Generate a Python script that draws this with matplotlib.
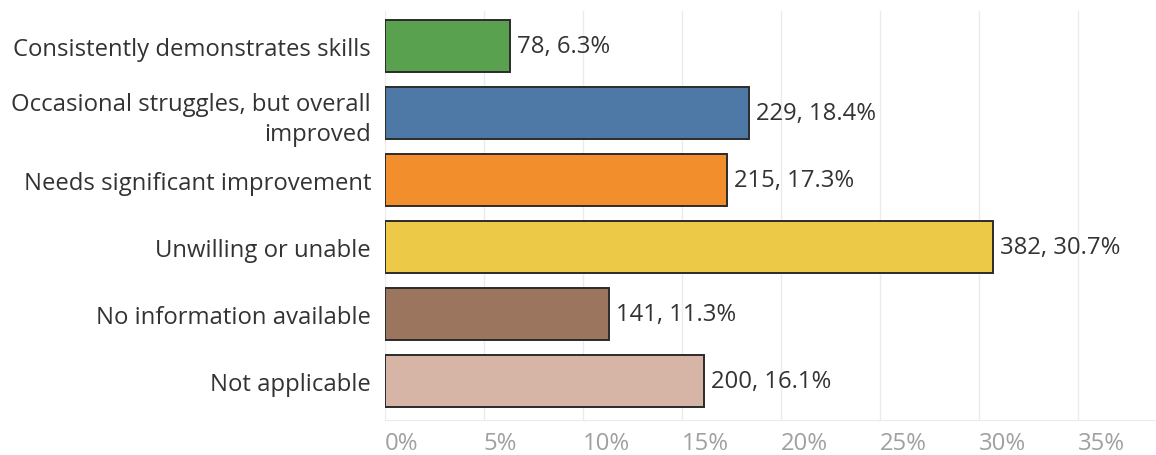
import matplotlib
matplotlib.use("Agg")
import matplotlib.pyplot as plt
from matplotlib.ticker import FuncFormatter

categories = [
    "Consistently demonstrates skills",
    "Occasional struggles, but overall\nimproved",
    "Needs significant improvement",
    "Unwilling or unable",
    "No information available",
    "Not applicable",
]
counts = [78, 229, 215, 382, 141, 200]
percents = [6.3, 18.4, 17.3, 30.7, 11.3, 16.1]
colors = ["#59A14F", "#4E79A7", "#F28E2B", "#EDC948", "#9C755F", "#D7B5A6"]
xticks = [0, 5, 10, 15, 20, 25, 30, 35]

plt.rcParams['font.family'] = ['Open Sans', 'DejaVu Sans']

W, H = 1156, 456
fig = plt.figure(figsize=(W / 100, H / 100), dpi=100)
left, right, top, bottom = 385, 1157, 12, 421
ax = fig.add_axes([left / W, 1 - bottom / H, (right - left) / W, (bottom - top) / H])

ypos = list(range(len(categories)))
ax.barh(ypos, percents, height=0.78, color=colors, edgecolor="#2b2b2b", linewidth=1.4, zorder=3)
ax.set_ylim(len(categories) - 0.5 + 0.09, -0.5 - 0.03)
ax.set_xlim(0, 39)

fs = 17.2
for y, c, p in zip(ypos, counts, percents):
    ax.text(p + 0.35, y, f"{c}, {p}%", va="center", ha="left", fontsize=fs, color="#333333", zorder=4)

ax.set_yticks(ypos)
ax.set_yticklabels(categories, fontsize=fs, color="#333333", linespacing=1.3)
ax.tick_params(axis="y", length=0, pad=10)

ax.set_xticks(xticks)
ax.xaxis.set_major_formatter(FuncFormatter(lambda v, _: f"{int(v)}%"))
ax.tick_params(axis="x", length=0, pad=8, labelsize=17.2, labelcolor="#a0a0a0")
for lbl in ax.get_xticklabels():
    lbl.set_horizontalalignment("left")

ax.grid(axis="x", color="#ebebeb", linewidth=1, zorder=0)
for s in ["top", "right", "left"]:
    ax.spines[s].set_visible(False)
ax.spines["bottom"].set_color("#ebebeb")

fig.savefig("out.png", dpi=100)
